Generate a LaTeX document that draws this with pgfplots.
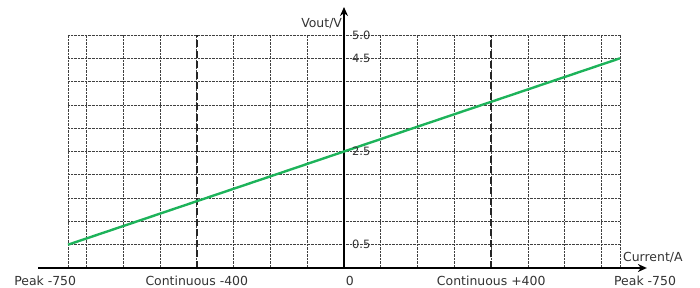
\documentclass[border=0pt]{standalone}
\usepackage{pgfplots}
\pgfplotsset{compat=1.18}
\usepackage{fontspec}
\setmainfont{DejaVu Sans}
\usetikzlibrary{arrows.meta}
\definecolor{txt}{HTML}{333333}
\definecolor{lgreen}{HTML}{1DB35A}
\tikzset{ylab/.style={anchor=west, inner sep=0pt, text=txt, font=\fontsize{11.5}{13}\selectfont, xshift=8bp}}
\begin{document}
\begin{tikzpicture}
\useasboundingbox (-68bp,-20bp) rectangle (632bp,268bp);
\begin{axis}[
  at={(0,0)}, anchor=south west,
  scale only axis, width=552bp, height=233bp,
  xmin=-750, xmax=750, ymin=0, ymax=5,
  axis line style={draw=none},
  xtick={-750,-700,-600,-500,-400,-300,-200,-100,0,100,200,300,400,500,600,700,750},
  ytick={0,0.5,1,1.5,2,2.5,3,3.5,4,4.5,5},
  xticklabels={}, yticklabels={},
  major tick length=0pt,
  grid=major,
  grid style={densely dotted, black!75, line width=0.7pt},
  clip=false,
  font=\fontsize{12.5}{14}\selectfont,
]
% dashed continuous-current limits
\addplot[black!85, line width=2pt, dash pattern=on 7bp off 3.5bp] coordinates {(-400,0) (-400,5)};
\addplot[black!85, line width=2pt, dash pattern=on 7bp off 3.5bp] coordinates {(400,0) (400,5)};
% axes
\draw[black, line width=2.4pt, -{Stealth[length=9pt,width=8pt]}] (axis cs:-831,0) -- (axis cs:823,0);
\draw[black, line width=2.4pt, -{Stealth[length=9pt,width=8pt]}] (axis cs:0,0) -- (axis cs:0,5.6);
% transfer line
\addplot[lgreen, line width=2.4pt] coordinates {(-750,0.5) (750,4.5)};
% y tick labels
\node[ylab] at (axis cs:0,5) {5.0};
\node[ylab] at (axis cs:0,4.5) {4.5};
\node[ylab] at (axis cs:0,2.5) {2.5};
\node[ylab] at (axis cs:0,0.5) {0.5};
% axis titles
\node[anchor=east, inner sep=0pt, text=txt] at (axis cs:-5,5.236) {Vout/V};
\node[anchor=west, inner sep=0pt, text=txt] at (axis cs:758,0.225) {Current/A};
% x labels
\node[inner sep=0pt, text=txt] at (axis cs:-812,-0.268) {Peak -750};
\node[inner sep=0pt, text=txt] at (axis cs:-400,-0.268) {Continuous -400};
\node[inner sep=0pt, text=txt] at (axis cs:16,-0.268) {0};
\node[inner sep=0pt, text=txt] at (axis cs:400,-0.268) {Continuous +400};
\node[inner sep=0pt, text=txt] at (axis cs:818,-0.268) {Peak -750};
\end{axis}
\end{tikzpicture}
\end{document}
